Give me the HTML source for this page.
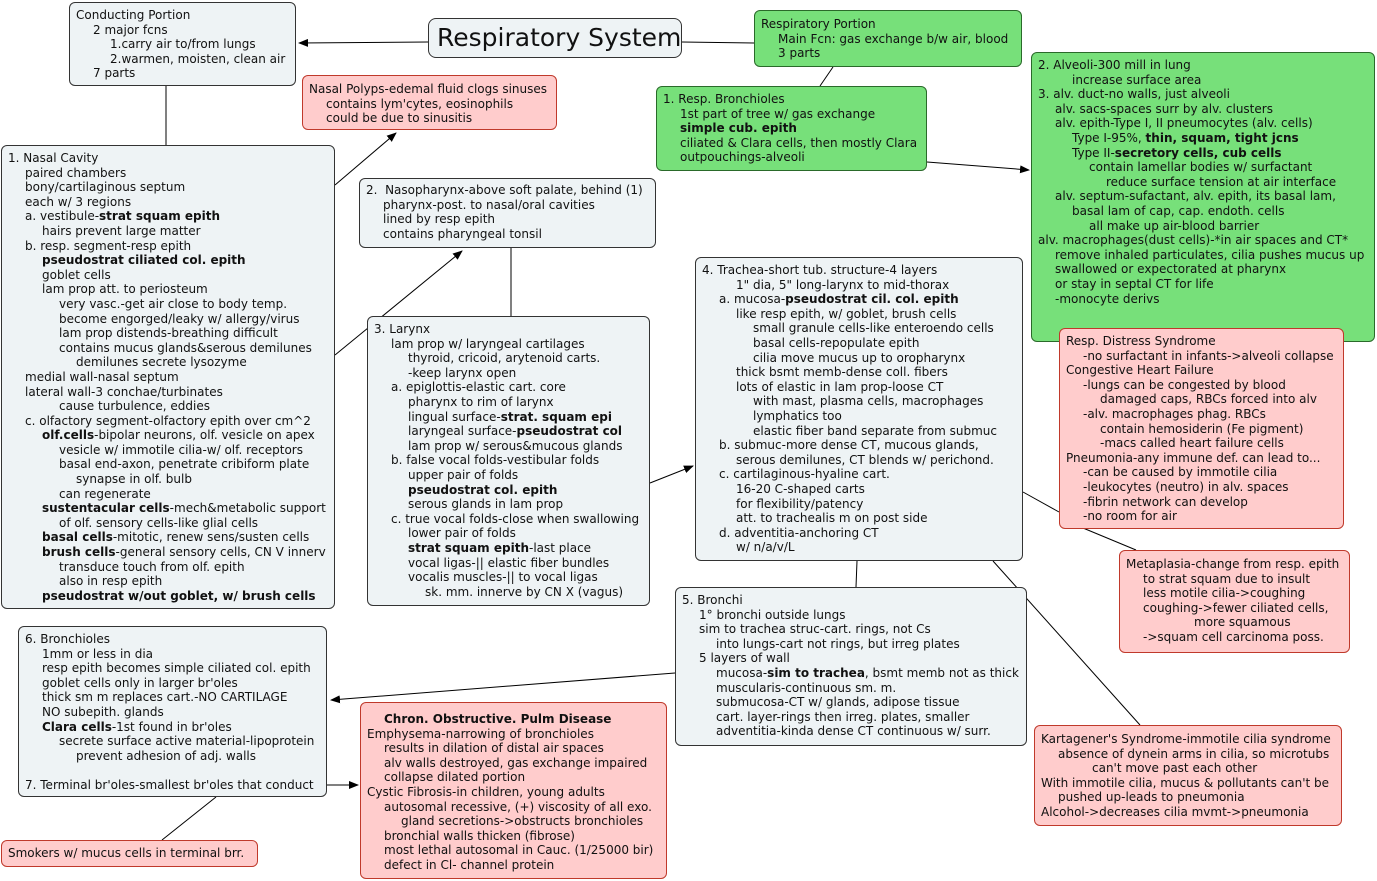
<!DOCTYPE html>
<html><head><meta charset="utf-8"><style>
body{margin:0;width:1377px;height:881px;background:#fff;position:relative;overflow:hidden;font-family:"DejaVu Sans","Liberation Sans",sans-serif;font-size:12px;color:#111}
.b{position:absolute;box-sizing:border-box;border:1px solid #333;border-radius:6px;background:#eef3f5;padding:4px 6px;line-height:14.6px;white-space:nowrap;overflow:visible}
.g{background:#77e07a;border-color:#2a6a2a}
.p{background:#ffcccc;border-color:#c0392b}
.i1{padding-left:17px}.i2{padding-left:34px}.i3{padding-left:51px}.i4{padding-left:68px}.i5{padding-left:85px}
b{font-weight:bold}
svg{position:absolute;left:0;top:0}
</style></head><body>
<svg width="1377" height="881"><defs><marker id="a" markerWidth="10" markerHeight="8" refX="9" refY="4" orient="auto" markerUnits="userSpaceOnUse"><path d="M0,0L10,4L0,8z" fill="#000"/></marker></defs>
<g stroke="#000" stroke-width="1" fill="none">
<line x1="428" y1="42" x2="299" y2="43" marker-end="url(#a)"/>
<line x1="682" y1="42" x2="754" y2="43"/>
<line x1="833" y1="67" x2="820" y2="86"/>
<line x1="166" y1="86" x2="166" y2="145"/>
<line x1="335" y1="185" x2="396" y2="133" marker-end="url(#a)"/>
<line x1="335" y1="355" x2="462" y2="251" marker-end="url(#a)"/>
<line x1="511" y1="248" x2="511" y2="316"/>
<line x1="650" y1="483" x2="693" y2="466" marker-end="url(#a)"/>
<line x1="927" y1="162" x2="1029" y2="170" marker-end="url(#a)"/>
<line x1="1158" y1="341" x2="1162" y2="328"/>
<line x1="1023" y1="492" x2="1059" y2="512"/>
<line x1="1083" y1="528" x2="1136" y2="550"/>
<line x1="857" y1="561" x2="856" y2="587"/>
<line x1="993" y1="561" x2="1140" y2="725"/>
<line x1="675" y1="673" x2="331" y2="700" marker-end="url(#a)"/>
<line x1="327" y1="785" x2="358" y2="785" marker-end="url(#a)"/>
<line x1="216" y1="797" x2="162" y2="840"/>
</g></svg>

<div class="b" style="left:69px;top:2px;width:227px;height:84px;padding-top:5px">
<div>Conducting Portion</div><div class="i1">2 major fcns</div><div class="i2">1.carry air to/from lungs</div><div class="i2">2.warmen, moisten, clean air</div><div class="i1">7 parts</div></div>

<div class="b" style="left:428px;top:18px;width:254px;height:40px;border-radius:8px;font-size:25px;line-height:36px;padding:1px 8px;font-family:'DejaVu Sans',sans-serif">Respiratory System</div>

<div class="b g" style="left:754px;top:10px;width:268px;height:57px;padding-top:6px">
<div>Respiratory Portion</div><div class="i1">Main Fcn: gas exchange b/w air, blood</div><div class="i1">3 parts</div></div>

<div class="b p" style="left:302px;top:75px;width:255px;height:55px;padding-top:6px">
<div>Nasal Polyps-edemal fluid clogs sinuses</div><div class="i1">contains lym'cytes, eosinophils</div><div class="i1">could be due to sinusitis</div></div>

<div class="b" style="left:1px;top:145px;width:334px;height:464px;padding-top:5px">
<div>1. Nasal Cavity</div>
<div class="i1">paired chambers</div>
<div class="i1">bony/cartilaginous septum</div>
<div class="i1">each w/ 3 regions</div>
<div class="i1">a. vestibule-<b>strat squam epith</b></div>
<div class="i2">hairs prevent large matter</div>
<div class="i1">b. resp. segment-resp epith</div>
<div class="i2"><b>pseudostrat ciliated col. epith</b></div>
<div class="i2">goblet cells</div>
<div class="i2">lam prop att. to periosteum</div>
<div class="i3">very vasc.-get air close to body temp.</div>
<div class="i3">become engorged/leaky w/ allergy/virus</div>
<div class="i3">lam prop distends-breathing difficult</div>
<div class="i3">contains mucus glands&amp;serous demilunes</div>
<div class="i4">demilunes secrete lysozyme</div>
<div class="i1">medial wall-nasal septum</div>
<div class="i1">lateral wall-3 conchae/turbinates</div>
<div class="i3">cause turbulence, eddies</div>
<div class="i1">c. olfactory segment-olfactory epith over cm^2</div>
<div class="i2"><b>olf.cells</b>-bipolar neurons, olf. vesicle on apex</div>
<div class="i3">vesicle w/ immotile cilia-w/ olf. receptors</div>
<div class="i3">basal end-axon, penetrate cribiform plate</div>
<div class="i4">synapse in olf. bulb</div>
<div class="i3">can regenerate</div>
<div class="i2"><b>sustentacular cells</b>-mech&amp;metabolic support</div>
<div class="i3">of olf. sensory cells-like glial cells</div>
<div class="i2"><b>basal cells</b>-mitotic, renew sens/susten cells</div>
<div class="i2"><b>brush cells</b>-general sensory cells, CN V innerv</div>
<div class="i3">transduce touch from olf. epith</div>
<div class="i3">also in resp epith</div>
<div class="i2"><b>pseudostrat w/out goblet, w/ brush cells</b></div>
</div>

<div class="b" style="left:359px;top:178px;width:297px;height:70px;padding-top:4px">
<div>2.&nbsp; Nasopharynx-above soft palate, behind (1)</div><div class="i1">pharynx-post. to nasal/oral cavities</div><div class="i1">lined by resp epith</div><div class="i1">contains pharyngeal tonsil</div></div>

<div class="b" style="left:367px;top:316px;width:283px;height:290px;padding-top:5px">
<div>3. Larynx</div>
<div class="i1">lam prop w/ laryngeal cartilages</div>
<div class="i2">thyroid, cricoid, arytenoid carts.</div>
<div class="i2">-keep larynx open</div>
<div class="i1">a. epiglottis-elastic cart. core</div>
<div class="i2">pharynx to rim of larynx</div>
<div class="i2">lingual surface-<b>strat. squam epi</b></div>
<div class="i2">laryngeal surface-<b>pseudostrat col</b></div>
<div class="i2">lam prop w/ serous&amp;mucous glands</div>
<div class="i1">b. false vocal folds-vestibular folds</div>
<div class="i2">upper pair of folds</div>
<div class="i2"><b>pseudostrat col. epith</b></div>
<div class="i2">serous glands in lam prop</div>
<div class="i1">c. true vocal folds-close when swallowing</div>
<div class="i2">lower pair of folds</div>
<div class="i2"><b>strat squam epith</b>-last place</div>
<div class="i2">vocal ligas-|| elastic fiber bundles</div>
<div class="i2">vocalis muscles-|| to vocal ligas</div>
<div class="i3">sk. mm. innerve by CN X (vagus)</div>
</div>

<div class="b g" style="left:656px;top:86px;width:271px;height:85px;padding-top:5px">
<div>1. Resp. Bronchioles</div><div class="i1">1st part of tree w/ gas exchange</div><div class="i1"><b>simple cub. epith</b></div><div class="i1">ciliated &amp; Clara cells, then mostly Clara</div><div class="i1">outpouchings-alveoli</div></div>

<div class="b g" style="left:1031px;top:52px;width:344px;height:290px;padding-top:5px">
<div>2. Alveoli-300 mill in lung</div>
<div class="i2">increase surface area</div>
<div>3. alv. duct-no walls, just alveoli</div>
<div class="i1">alv. sacs-spaces surr by alv. clusters</div>
<div class="i1">alv. epith-Type I, II pneumocytes (alv. cells)</div>
<div class="i2">Type I-95%, <b>thin, squam, tight jcns</b></div>
<div class="i2">Type II-<b>secretory cells, cub cells</b></div>
<div class="i3">contain lamellar bodies w/ surfactant</div>
<div class="i4">reduce surface tension at air interface</div>
<div class="i1">alv. septum-sufactant, alv. epith, its basal lam,</div>
<div class="i2">basal lam of cap, cap. endoth. cells</div>
<div class="i3">all make up air-blood barrier</div>
<div>alv. macrophages(dust cells)-*in air spaces and CT*</div>
<div class="i1">remove inhaled particulates, cilia pushes mucus up</div>
<div class="i1">swallowed or expectorated at pharynx</div>
<div class="i1">or stay in septal CT for life</div>
<div class="i1">-monocyte derivs</div>
</div>

<div class="b" style="left:695px;top:257px;width:328px;height:304px;padding-top:5px">
<div>4. Trachea-short tub. structure-4 layers</div>
<div class="i2">1" dia, 5" long-larynx to mid-thorax</div>
<div class="i1">a. mucosa-<b>pseudostrat cil. col. epith</b></div>
<div class="i2">like resp epith, w/ goblet, brush cells</div>
<div class="i3">small granule cells-like enteroendo cells</div>
<div class="i3">basal cells-repopulate epith</div>
<div class="i3">cilia move mucus up to oropharynx</div>
<div class="i2">thick bsmt memb-dense coll. fibers</div>
<div class="i2">lots of elastic in lam prop-loose CT</div>
<div class="i3">with mast, plasma cells, macrophages</div>
<div class="i3">lymphatics too</div>
<div class="i3">elastic fiber band separate from submuc</div>
<div class="i1">b. submuc-more dense CT, mucous glands,</div>
<div class="i2">serous demilunes, CT blends w/ perichond.</div>
<div class="i1">c. cartilaginous-hyaline cart.</div>
<div class="i2">16-20 C-shaped carts</div>
<div class="i2">for flexibility/patency</div>
<div class="i2">att. to trachealis m on post side</div>
<div class="i1">d. adventitia-anchoring CT</div>
<div class="i2">w/ n/a/v/L</div>
</div>

<div class="b p" style="left:1059px;top:328px;width:285px;height:201px;padding-top:5px">
<div>Resp. Distress Syndrome</div>
<div class="i1">-no surfactant in infants-&gt;alveoli collapse</div>
<div>Congestive Heart Failure</div>
<div class="i1">-lungs can be congested by blood</div>
<div class="i2">damaged caps, RBCs forced into alv</div>
<div class="i1">-alv. macrophages phag. RBCs</div>
<div class="i2">contain hemosiderin (Fe pigment)</div>
<div class="i2">-macs called heart failure cells</div>
<div>Pneumonia-any immune def. can lead to...</div>
<div class="i1">-can be caused by immotile cilia</div>
<div class="i1">-leukocytes (neutro) in alv. spaces</div>
<div class="i1">-fibrin network can develop</div>
<div class="i1">-no room for air</div>
</div>

<div class="b p" style="left:1119px;top:550px;width:231px;height:103px;padding-top:6px">
<div>Metaplasia-change from resp. epith</div>
<div class="i1">to strat squam due to insult</div>
<div class="i1">less motile cilia-&gt;coughing</div>
<div class="i1">coughing-&gt;fewer ciliated cells,</div>
<div class="i4">more squamous</div>
<div class="i1">-&gt;squam cell carcinoma poss.</div>
</div>

<div class="b" style="left:675px;top:587px;width:352px;height:159px;padding-top:5px">
<div>5. Bronchi</div>
<div class="i1">1° bronchi outside lungs</div>
<div class="i1">sim to trachea struc-cart. rings, not Cs</div>
<div class="i2">into lungs-cart not rings, but irreg plates</div>
<div class="i1">5 layers of wall</div>
<div class="i2">mucosa-<b>sim to trachea</b>, bsmt memb not as thick</div>
<div class="i2">muscularis-continuous sm. m.</div>
<div class="i2">submucosa-CT w/ glands, adipose tissue</div>
<div class="i2">cart. layer-rings then irreg. plates, smaller</div>
<div class="i2">adventitia-kinda dense CT continuous w/ surr.</div>
</div>

<div class="b" style="left:18px;top:626px;width:309px;height:171px;padding-top:5px">
<div>6. Bronchioles</div>
<div class="i1">1mm or less in dia</div>
<div class="i1">resp epith becomes simple ciliated col. epith</div>
<div class="i1">goblet cells only in larger br'oles</div>
<div class="i1">thick sm m replaces cart.-NO CARTILAGE</div>
<div class="i1">NO subepith. glands</div>
<div class="i1"><b>Clara cells</b>-1st found in br'oles</div>
<div class="i2">secrete surface active material-lipoprotein</div>
<div class="i3">prevent adhesion of adj. walls</div>
<div>&nbsp;</div>
<div>7. Terminal br'oles-smallest br'oles that conduct</div>
</div>

<div class="b p" style="left:360px;top:702px;width:307px;height:177px;padding-top:9px">
<div class="i1"><b>Chron. Obstructive. Pulm Disease</b></div>
<div>Emphysema-narrowing of bronchioles</div>
<div class="i1">results in dilation of distal air spaces</div>
<div class="i1">alv walls destroyed, gas exchange impaired</div>
<div class="i1">collapse dilated portion</div>
<div>Cystic Fibrosis-in children, young adults</div>
<div class="i1">autosomal recessive, (+) viscosity of all exo.</div>
<div class="i2">gland secretions-&gt;obstructs bronchioles</div>
<div class="i1">bronchial walls thicken (fibrose)</div>
<div class="i1">most lethal autosomal in Cauc. (1/25000 bir)</div>
<div class="i1">defect in Cl- channel protein</div>
</div>

<div class="b p" style="left:1034px;top:725px;width:308px;height:101px;padding-top:6px">
<div>Kartagener's Syndrome-immotile cilia syndrome</div>
<div class="i1">absence of dynein arms in cilia, so microtubs</div>
<div class="i3">can't move past each other</div>
<div>With immotile cilia, mucus &amp; pollutants can't be</div>
<div class="i1">pushed up-leads to pneumonia</div>
<div>Alcohol-&gt;decreases cilia mvmt-&gt;pneumonia</div>
</div>

<div class="b p" style="left:1px;top:840px;width:257px;height:27px;padding-top:5px">Smokers w/ mucus cells in terminal brr.</div>
</body></html>
